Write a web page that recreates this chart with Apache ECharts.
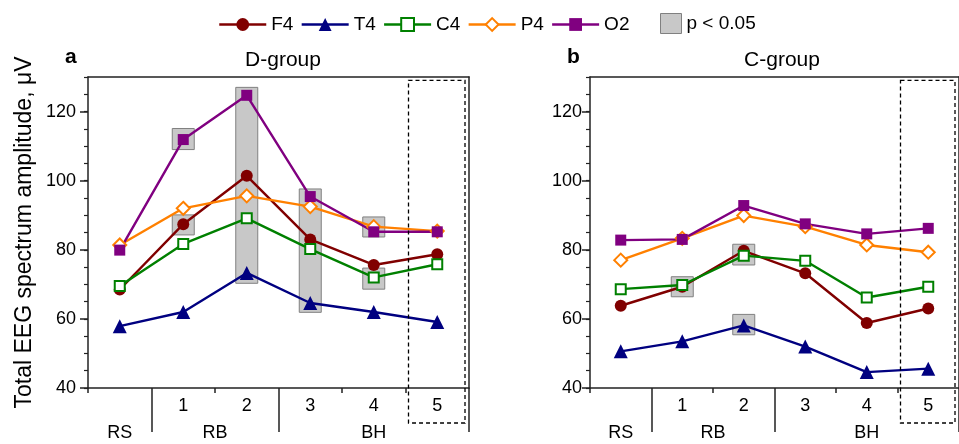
<!DOCTYPE html>
<html>
<head>
<meta charset="utf-8">
<script src="https://cdn.jsdelivr.net/npm/echarts@6/dist/echarts.min.js"></script>
<style>
html,body{margin:0;padding:0;background:#fff;}
#c{width:959px;height:444px;}
</style>
</head>
<body>
<div id="c"></div>
<script>
// ---- data ----
const xLabels = ['', '1', '2', '3', '4', '5'];
const groupNames = ['RS', 'RB', 'BH'];
const groupCenters = [0, 1.5, 4];
const groupBounds = [0.5, 2.5, 5.5];
const yTicks = [40, 60, 80, 100, 120];
const seriesNames = ['F4', 'T4', 'C4', 'P4', 'O2'];

const dF4 = [68.5, 87.4, 101.4, 83.0, 75.6, 78.7];
const dT4 = [57.9, 62.0, 73.3, 64.6, 62.0, 59.1];
const dC4 = [69.5, 81.7, 89.1, 80.2, 72.0, 75.8];
const dP4 = [81.4, 92.0, 95.6, 92.5, 86.7, 85.4];
const dO2 = [79.9, 111.9, 124.7, 95.4, 85.2, 85.2];
// significance boxes: [category index, low, high]
const sigD = [[1, 109.0, 115.1], [1, 84.3, 90.1], [2, 70.3, 127.0], [3, 61.9, 97.6], [4, 83.7, 89.5], [4, 68.6, 74.7]];

const cF4 = [63.8, 69.3, 79.7, 73.2, 58.8, 63.0];
const cT4 = [50.6, 53.5, 58.1, 52.0, 44.6, 45.6];
const cC4 = [68.6, 69.8, 78.3, 76.8, 66.2, 69.3];
const cP4 = [77.0, 83.3, 89.9, 86.7, 81.4, 79.3];
const cO2 = [82.8, 83.0, 92.8, 87.5, 84.6, 86.2];
const sigC = [[1, 66.4, 72.2], [2, 75.6, 81.6], [2, 55.4, 61.3]];

const highlight = [[5, 129]];

// ---- styles ----
const FONT = 'Liberation Sans, Arial, sans-serif';
const styles = {
  F4: {color: '#800000', symbol: 'circle', size: 12},
  T4: {color: '#000080', symbol: 'triangle', size: 14},
  C4: {color: '#008000', symbol: 'emptyRect', size: 10},
  P4: {color: '#ff8000', symbol: 'emptyDiamond', size: 13},
  O2: {color: '#800080', symbol: 'rect', size: 11}
};
const AX = '#222';

const grids = [
  {left: 88, top: 77, width: 381, height: 311},
  {left: 590, top: 77, width: 381, height: 311}
];
const yLabelMargin = [12, 8];

const xAxes = [], yAxes = [];
grids.forEach((g, gi) => {
  xAxes.push({
    type: 'category', gridIndex: gi, data: xLabels, boundaryGap: true, position: 'bottom',
    axisLine: {show: true, onZero: false, lineStyle: {color: AX, width: 1.5}},
    axisTick: {show: true, length: 5, lineStyle: {color: AX, width: 1.5}},
    axisLabel: {color: '#000', fontSize: 18, fontFamily: FONT, margin: 9}
  });
  xAxes.push({
    type: 'value', gridIndex: gi, min: -0.5, max: 5.5, position: 'bottom',
    splitLine: {show: false},
    axisLine: {show: false, onZero: false},
    axisTick: {show: true, length: 44, customValues: groupBounds, lineStyle: {color: AX, width: 1.5}},
    axisLabel: {
      show: true, customValues: groupCenters, color: '#000', fontSize: 18, fontFamily: FONT, margin: 36,
      formatter: v => groupNames[groupCenters.indexOf(v)] || ''
    }
  });
  xAxes.push({
    type: 'value', gridIndex: gi, min: 0, max: 1, position: 'top',
    splitLine: {show: false}, axisTick: {show: false}, axisLabel: {show: false},
    axisLine: {show: true, onZero: false, lineStyle: {color: AX, width: 1.5}}
  });
  yAxes.push({
    type: 'value', gridIndex: gi, min: 40, max: 130, interval: 20, position: 'left',
    name: gi === 0 ? 'Total EEG spectrum amplitude, \u03bcV' : '',
    nameLocation: 'middle', nameGap: 52,
    nameTextStyle: {fontSize: 23, color: '#000', fontFamily: FONT},
    splitLine: {show: false},
    axisLine: {show: true, onZero: false, lineStyle: {color: AX, width: 1.5}},
    axisTick: {show: true, length: 8, customValues: yTicks, lineStyle: {color: AX, width: 1.5}},
    axisLabel: {color: '#000', fontSize: 18, fontFamily: FONT, margin: yLabelMargin[gi], customValues: yTicks}
  });
  yAxes.push({
    type: 'value', gridIndex: gi, min: 40, max: 130, interval: 5, position: 'left',
    splitLine: {show: false}, axisLine: {show: false, onZero: false}, axisLabel: {show: false},
    axisTick: {show: true, length: 4, lineStyle: {color: AX, width: 1.2}}
  });
  yAxes.push({
    type: 'value', gridIndex: gi, min: 0, max: 1, position: 'right',
    splitLine: {show: false}, axisTick: {show: false}, axisLabel: {show: false},
    axisLine: {show: true, onZero: false, lineStyle: {color: AX, width: 1.5}}
  });
});

function sigSeries(data, gi) {
  return {
    name: 'p < 0.05', type: 'custom', xAxisIndex: gi * 3, yAxisIndex: gi * 3, z: 1,
    itemStyle: {color: '#c8c8c8'},
    encode: {x: 0, y: [1, 2]},
    renderItem: function (params, api) {
      const c = api.value(0);
      const p1 = api.coord([c, api.value(2)]);
      const p2 = api.coord([c, api.value(1)]);
      const w = 22;
      return {type: 'rect', shape: {x: p1[0] - w / 2, y: p1[1], width: w, height: p2[1] - p1[1]},
        style: {fill: '#c8c8c8', stroke: '#808080', lineWidth: 1}};
    },
    data: data
  };
}
function dashSeries(gi) {
  return {
    type: 'custom', xAxisIndex: gi * 3, yAxisIndex: gi * 3, z: 10, clip: false, silent: true,
    renderItem: function (params, api) {
      const c = api.value(0);
      const top = api.coord([c, api.value(1)]);
      const base = api.coord([c, 40]);
      const bw = api.size([1, 0])[0];
      return {type: 'rect', shape: {x: top[0] - bw / 2 + 3, y: top[1], width: bw - 7, height: base[1] + 35 - top[1]},
        style: {fill: 'none', stroke: '#000', lineWidth: 1.3, lineDash: [4, 3]}};
    },
    data: highlight
  };
}
function lineSeries(name, data, gi) {
  const s = styles[name];
  const o = {
    name: name, type: 'line', xAxisIndex: gi * 3, yAxisIndex: gi * 3, z: 3,
    data: data, symbol: s.symbol, symbolSize: s.size,
    lineStyle: {color: s.color, width: 2.4},
    itemStyle: {color: s.color},
    emphasis: {disabled: true}, animation: false
  };
  if (s.symbol.indexOf('empty') === 0) o.itemStyle.borderWidth = 1.6;
  return o;
}

const series = [sigSeries(sigD, 0), sigSeries(sigC, 1)];
[[dF4, dT4, dC4, dP4, dO2], [cF4, cT4, cC4, cP4, cO2]].forEach((set, gi) => {
  set.forEach((d, k) => series.push(lineSeries(seriesNames[k], d, gi)));
});
series.push(dashSeries(0), dashSeries(1));

const option = {
  animation: false,
  backgroundColor: '#fff',
  textStyle: {fontFamily: FONT},
  title: [
    {text: 'D-group', left: 278, top: 45, textAlign: 'center', textStyle: {fontSize: 21, fontWeight: 'normal', color: '#000', fontFamily: FONT}},
    {text: 'C-group', left: 777, top: 45, textAlign: 'center', textStyle: {fontSize: 21, fontWeight: 'normal', color: '#000', fontFamily: FONT}},
    {text: 'a', left: 60, top: 42, textStyle: {fontSize: 21, fontWeight: 'bold', color: '#000', fontFamily: FONT}},
    {text: 'b', left: 562, top: 42, textStyle: {fontSize: 21, fontWeight: 'bold', color: '#000', fontFamily: FONT}}
  ],
  legend: [
    {data: seriesNames, left: 213, top: 10, itemWidth: 47, itemHeight: 16, itemGap: 7,
      lineStyle: {width: 2.5},
      textStyle: {fontSize: 19, color: '#000', fontFamily: FONT}},
    {data: [{name: 'p < 0.05', icon: 'rect', itemStyle: {color: '#c8c8c8', borderColor: '#808080', borderWidth: 1}}],
      left: 655, top: 8, itemWidth: 21, itemHeight: 20,
      textStyle: {fontSize: 19, color: '#000', fontFamily: FONT}}
  ],
  grid: grids,
  xAxis: xAxes,
  yAxis: yAxes,
  series: series
};
const chart = echarts.init(document.getElementById('c'), null, {renderer: 'canvas'});
chart.setOption(option);
</script>
</body>
</html>
